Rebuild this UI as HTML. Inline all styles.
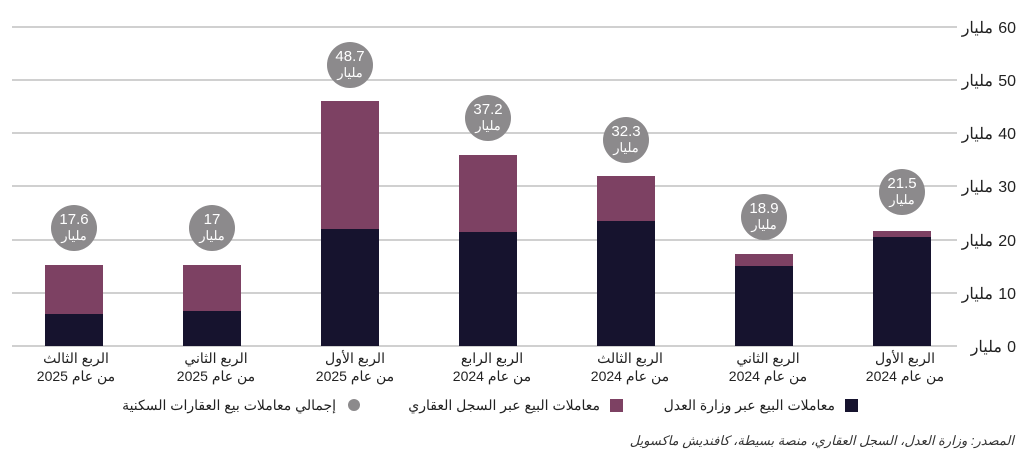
<!DOCTYPE html>
<html><head><meta charset="utf-8"><style>
body{margin:0;background:#fff;width:1024px;height:456px;overflow:hidden;font-family:"Liberation Sans","Noto Sans CJK SC",sans-serif}
</style></head><body>
<svg width="1024" height="456" xmlns="http://www.w3.org/2000/svg" font-family="Liberation Sans, Noto Sans CJK SC, sans-serif">
<g stroke="#b4b4b4" stroke-width="1.2">
<line x1="12" y1="27" x2="957" y2="27"/><line x1="12" y1="80" x2="957" y2="80"/><line x1="12" y1="133" x2="957" y2="133"/><line x1="12" y1="186" x2="957" y2="186"/><line x1="12" y1="240" x2="957" y2="240"/><line x1="12" y1="293" x2="957" y2="293"/><line x1="12" y1="346" x2="957" y2="346"/>
</g>
<g font-size="16" fill="#222" text-anchor="end">
<text x="1016" y="33">60</text><text x="993" y="33">مليار</text>
<text x="1016" y="86">50</text><text x="993" y="86">مليار</text>
<text x="1016" y="139">40</text><text x="993" y="139">مليار</text>
<text x="1016" y="192">30</text><text x="993" y="192">مليار</text>
<text x="1016" y="246">20</text><text x="993" y="246">مليار</text>
<text x="1016" y="299">10</text><text x="993" y="299">مليار</text>
<text x="1016" y="352">0</text><text x="1002" y="352">مليار</text>
</g>
<g fill="#7d4163">
<rect x="45" y="265" width="58" height="81"/><rect x="183" y="265" width="58" height="81"/><rect x="321" y="101" width="58" height="245"/><rect x="459" y="155" width="58" height="191"/><rect x="597" y="176" width="58" height="170"/><rect x="735" y="254" width="58" height="92"/><rect x="873" y="231" width="58" height="115"/>
</g>
<g fill="#16132e">
<rect x="45" y="314" width="58" height="32"/><rect x="183" y="311" width="58" height="35"/><rect x="321" y="229" width="58" height="117"/><rect x="459" y="232" width="58" height="114"/><rect x="597" y="221" width="58" height="125"/><rect x="735" y="266" width="58" height="80"/><rect x="873" y="237" width="58" height="109"/>
</g>
<g fill="#8c8a8c">
<circle cx="74" cy="228" r="23"/><circle cx="212" cy="228" r="23"/><circle cx="350" cy="65" r="23"/><circle cx="488" cy="118" r="23"/><circle cx="626" cy="140" r="23"/><circle cx="764" cy="217" r="23"/><circle cx="902" cy="192" r="23"/>
</g>
<g fill="#fff" text-anchor="middle">
<g font-size="15">
<text x="74" y="224">17.6</text><text x="212" y="224">17</text><text x="350" y="61">48.7</text><text x="488" y="114">37.2</text><text x="626" y="136">32.3</text><text x="764" y="213">18.9</text><text x="902" y="188">21.5</text>
</g>
<g font-size="13">
<text x="74" y="240">مليار</text><text x="212" y="240">مليار</text><text x="350" y="77">مليار</text><text x="488" y="130">مليار</text><text x="626" y="152">مليار</text><text x="764" y="229">مليار</text><text x="902" y="204">مليار</text>
</g>
</g>
<g fill="#222" font-size="14" text-anchor="middle">
<text x="76" y="363">الربع الثالث</text><text x="76" y="381">من عام 2025</text>
<text x="216" y="363">الربع الثاني</text><text x="216" y="381">من عام 2025</text>
<text x="355" y="363">الربع الأول</text><text x="355" y="381">من عام 2025</text>
<text x="492" y="363">الربع الرابع</text><text x="492" y="381">من عام 2024</text>
<text x="630" y="363">الربع الثالث</text><text x="630" y="381">من عام 2024</text>
<text x="768" y="363">الربع الثاني</text><text x="768" y="381">من عام 2024</text>
<text x="905" y="363">الربع الأول</text><text x="905" y="381">من عام 2024</text>
</g>
<circle cx="354" cy="405" r="6" fill="#8c8a8c"/>
<rect x="610" y="399" width="13" height="13" fill="#7d4163"/>
<rect x="845" y="399" width="13" height="13" fill="#16132e"/>
<g fill="#222" font-size="14" text-anchor="end">
<text x="336" y="410">إجمالي معاملات بيع العقارات السكنية</text>
<text x="600" y="410">معاملات البيع عبر السجل العقاري</text>
<text x="835" y="410">معاملات البيع عبر وزارة العدل</text>
</g>
<text x="1014" y="445" text-anchor="end" font-size="13" font-style="italic" fill="#333">المصدر: وزارة العدل، السجل العقاري، منصة بسيطة، كافنديش ماكسويل</text>
</svg>
</body></html>
